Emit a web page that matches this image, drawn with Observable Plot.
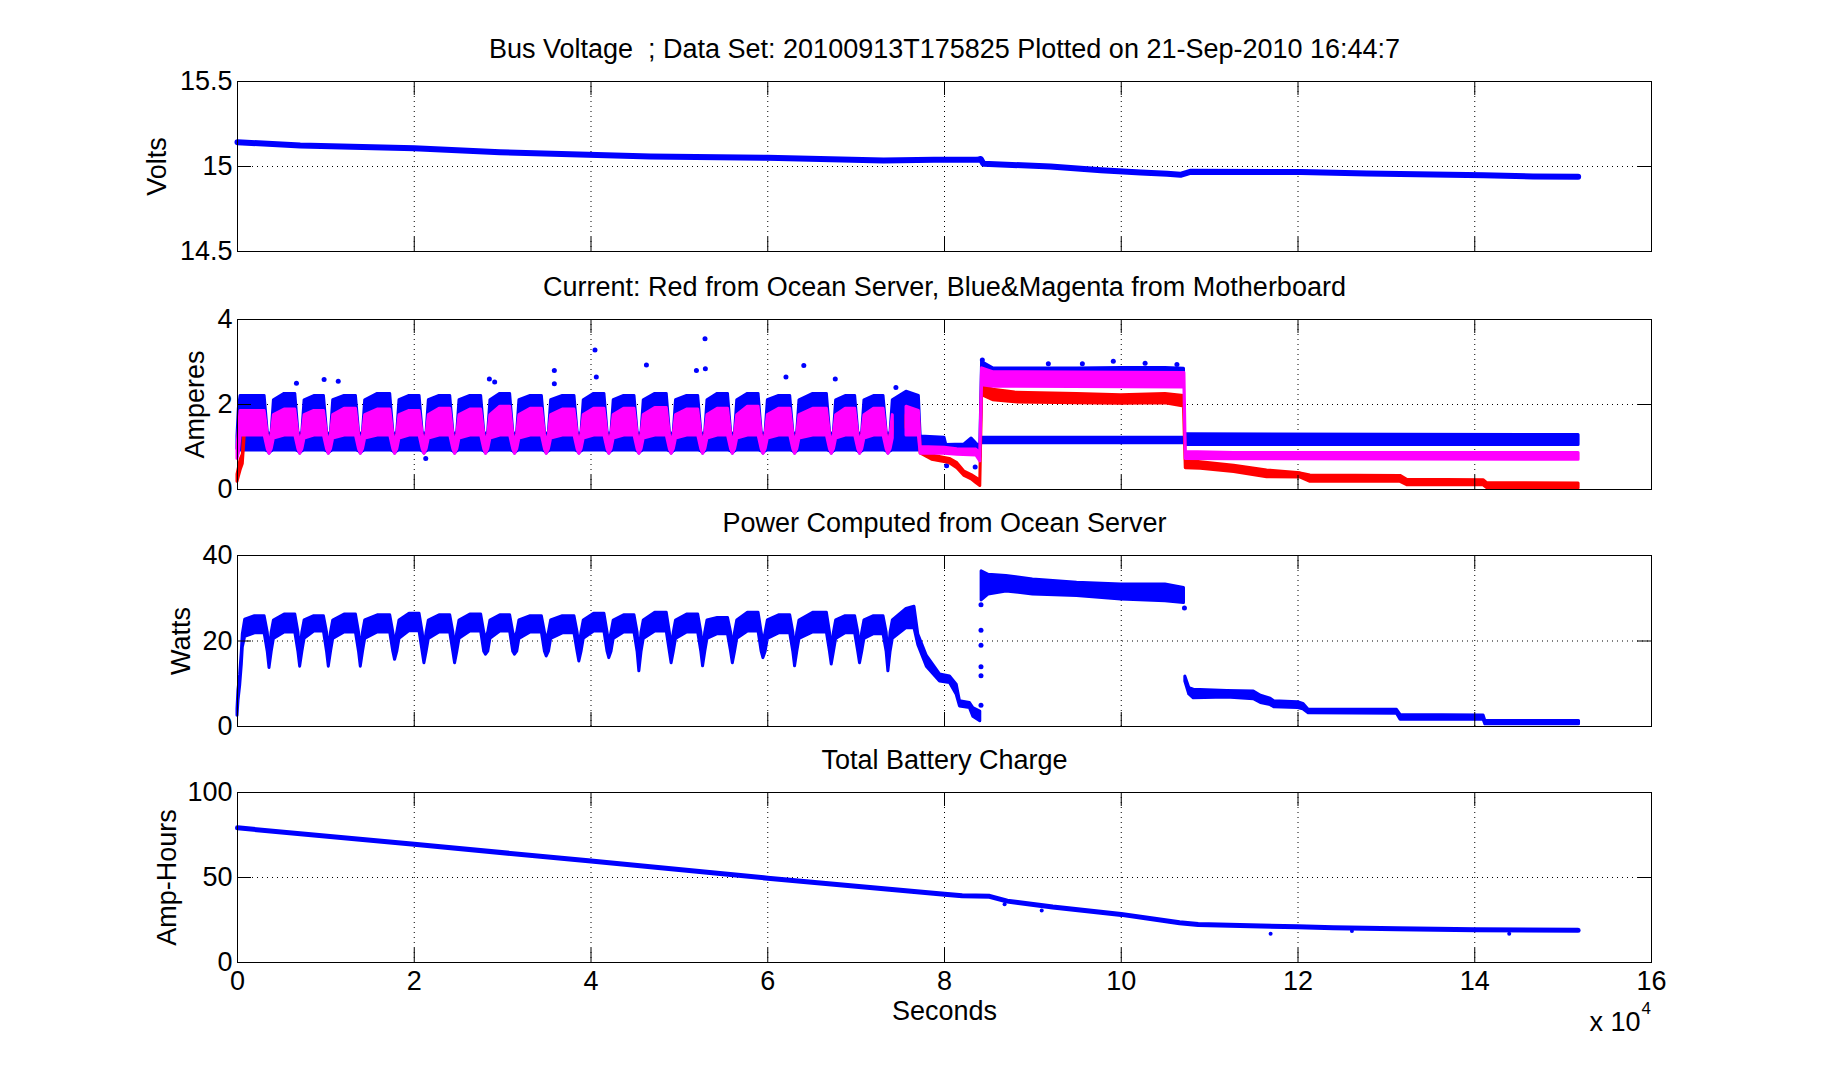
<!DOCTYPE html>
<html>
<head>
<meta charset="utf-8">
<script src="https://cdn.jsdelivr.net/npm/d3@7"></script>
<script src="https://cdn.jsdelivr.net/npm/@observablehq/plot@0.6"></script>
<style>
  html, body { margin: 0; padding: 0; background: #fff; }
  #chart { width: 1824px; height: 1080px; overflow: hidden; }
  #chart svg { display: block; }
</style>
</head>
<body>
<div id="chart"></div>
<script>
// ---------------- data ----------------
const xTickValues = [0, 20000, 40000, 60000, 80000, 100000, 120000, 140000, 160000];
const xTickLabels = ["0", "2", "4", "6", "8", "10", "12", "14", "16"];

const titles = [
  "Bus Voltage  ; Data Set: 20100913T175825 Plotted on 21-Sep-2010 16:44:7",
  "Current: Red from Ocean Server, Blue&Magenta from Motherboard",
  "Power Computed from Ocean Server",
  "Total Battery Charge"
];
const yLabels = ["Volts", "Amperes", "Watts", "Amp-Hours"];
const voltTicks = [14.5, 15, 15.5];
const ampTicks = [0, 2, 4];
const wattTicks = [0, 20, 40];
const ahTicks = [0, 50, 100];

// Bus voltage [seconds, volts]
const voltage = [
  [0, 15.143], [7100, 15.124], [20000, 15.108], [29700, 15.084], [46730, 15.059],
  [60000, 15.051], [73100, 15.035], [78800, 15.039], [83700, 15.039], [84100, 15.044],
  [84400, 15.016], [92000, 15.0], [97700, 14.978], [102200, 14.965], [105200, 14.957],
  [106700, 14.951], [107800, 14.969], [120300, 14.967], [127800, 14.959], [135300, 14.953],
  [141000, 14.948], [146600, 14.941], [151700, 14.94]
];

// duty cycles during the first ~77000 s (dip times, dip power minimum, plateau bands)
const dipTimes = [3620, 7090, 10330, 13950, 17830, 21150, 24620, 28120, 31400, 34990, 38680,
  42070, 45470, 49120, 52680, 56050, 59510, 63090, 67240, 70440, 73650];
const dipWatts = [13.7, 14.0, 14.0, 14.0, 15.6, 14.8, 14.8, 16.8, 16.8, 16.4, 15.2,
  16.0, 12.9, 14.8, 14.1, 14.8, 16.0, 14.1, 14.5, 14.8, 12.9];
const plateauWattsHi = [25.8, 26.2, 25.8, 26.2, 26.0, 26.4, 26.0, 26.2, 26.0, 25.8, 25.8,
  26.4, 26.0, 26.6, 26.2, 25.4, 26.6, 26.0, 26.6, 25.8, 25.8];
const plateauWattsLo = [21.8, 22.0, 22.2, 22.0, 22.0, 22.3, 22.0, 22.2, 22.2, 22.0, 21.8,
  22.2, 22.0, 22.2, 22.0, 21.6, 22.2, 21.8, 22.0, 21.8, 21.6];
const plateauBlueHi = [2.2, 2.25, 2.2, 2.2, 2.25, 2.2, 2.2, 2.2, 2.25, 2.2, 2.2,
  2.25, 2.2, 2.25, 2.2, 2.25, 2.25, 2.2, 2.25, 2.2, 2.2];
const plateauMagentaHi = [1.85, 1.88, 1.85, 1.9, 1.88, 1.85, 1.9, 1.88, 1.95, 1.9, 1.88,
  1.9, 1.9, 1.92, 1.88, 1.9, 1.95, 1.9, 1.9, 1.9, 1.9];
// band levels [lo, hi] around each dip: after-dip, shoulder, bottom
const wattsAfterDip = [20.5, 24.8], wattsShoulder = [17.5, 22.0];
const blueLoPlateau = 0.92, blueAfterDip = [0.92, 2.1], blueShoulder = [0.9, 1.35], blueDip = [0.85, 1.28];
const magentaLoPlateau = 1.27, magentaAfterDip = [1.2, 1.75], magentaShoulder = [0.95, 1.3], magentaDip = [0.84, 1.05];
const redPlateau = [1.45, 1.72], redAfterDip = [1.35, 1.6], redShoulder = [1.0, 1.25], redDip = [0.93, 1.1];

// power start-up and tail [seconds, lo, hi]
const powerStart = [[0, 2.5, 4], [110, 6, 8.5], [300, 9.5, 12], [490, 14.5, 17.5], [600, 18.5, 21.5], [870, 21, 25]];
const powerDecline = [[75700, 23, 27.5], [76600, 23, 28], [77040, 19, 21.5], [78000, 14, 16.5], [79490, 10.5, 12.2],
  [80620, 10.2, 11.7], [81380, 7.4, 9.8], [81750, 4.7, 5.9], [82880, 4.3, 5.5], [83260, 2.3, 4.3], [84050, 1.2, 3.5]];
const powerHigh = [[84200, 29.5, 36.3], [85000, 30.9, 35.5], [87000, 31.6, 35.2], [90000, 30.9, 34.4], [95000, 30.5, 33.6],
  [100000, 29.7, 33.2], [105000, 29.3, 33.2], [107100, 28.9, 32.4]];
const powerLow = [[107250, 10.5, 11.7], [107700, 7.5, 9.0], [108200, 6.6, 8.6], [112000, 6.8, 8.3], [115000, 6.4, 8.2],
  [115800, 5.5, 7.2], [116900, 5.0, 6.5], [117300, 4.5, 5.9], [120000, 4.3, 5.7], [120600, 4.0, 5.3], [121200, 3.1, 3.9],
  [131200, 3.0, 3.9], [131600, 1.6, 2.7], [141000, 1.6, 2.6], [141200, 0.5, 1.3], [151800, 0.5, 1.3]];
const powerStray = [[84130, 5.0], [84130, 11.9], [84130, 14.0], [84130, 19.0], [84130, 22.5], [84130, 28.5], [107150, 27.7]];

// current start-up [seconds, blueLo, blueHi, magentaLo, magentaHi, redLo, redHi]
const currentStart = [
  [0, 0.95, 1.25, 0.72, 1.0, 0.18, 0.35], [150, 0.92, 1.9, 0.85, 1.4, 0.3, 0.5],
  [350, 0.92, 2.2, 1.27, 1.85, 0.45, 0.7], [600, 0.92, 2.2, 1.27, 1.85, 0.6, 0.82],
  [870, 0.92, 2.2, 1.27, 1.85, 1.42, 1.72]
];
// current tails [seconds, lo, hi]
const blueTail = [[75700, 0.92, 2.3], [77100, 0.92, 2.2], [77300, 1.0, 1.25], [80000, 1.0, 1.22], [80200, 0.92, 1.05],
  [82260, 0.92, 1.06], [83070, 0.95, 1.2], [83600, 0.92, 1.08], [84050, 0.75, 1.0], [84250, 2.72, 3.0],
  [85500, 2.72, 2.85], [95000, 2.72, 2.85], [100000, 2.72, 2.86], [105000, 2.72, 2.86], [107100, 2.7, 2.84]];
const blueSparse = [[84300, 1.09, 1.22], [107200, 1.09, 1.22]];
const blueLate = [[107300, 1.05, 1.3], [151750, 1.05, 1.28]];
const magentaTail = [[75700, 1.27, 1.95], [77100, 1.27, 1.85], [77300, 0.84, 1.0], [80000, 0.84, 0.98], [81450, 0.82, 0.95],
  [83600, 0.8, 0.94], [84050, 0.66, 0.85], [84250, 2.45, 2.85], [85500, 2.42, 2.76], [107150, 2.4, 2.74],
  [107300, 0.72, 0.88], [112770, 0.71, 0.86], [151750, 0.7, 0.86]];
const redTail = [[75700, 1.45, 1.75], [77100, 1.45, 1.7], [77300, 0.85, 0.95], [78600, 0.7, 0.8], [80600, 0.62, 0.72],
  [81450, 0.5, 0.62], [82260, 0.32, 0.42], [83070, 0.24, 0.34], [83600, 0.15, 0.27], [84050, 0.08, 0.2],
  [84250, 2.22, 2.45], [85500, 2.1, 2.35], [88000, 2.05, 2.28], [95000, 2.03, 2.25], [100000, 2.02, 2.22],
  [105000, 2.03, 2.25], [107100, 1.95, 2.2], [107300, 0.5, 0.68], [109000, 0.49, 0.64], [112770, 0.41, 0.56],
  [116500, 0.29, 0.45], [120300, 0.28, 0.38], [121400, 0.18, 0.33], [131600, 0.18, 0.32], [132350, 0.1, 0.23],
  [141000, 0.1, 0.22], [141400, 0.03, 0.15], [151750, 0.03, 0.14]];
const blueStray = [[6670, 2.5], [9800, 2.59], [11400, 2.55], [21300, 0.73], [28500, 2.6], [29100, 2.53], [35850, 2.8],
  [35850, 2.49], [40450, 3.28], [40600, 2.65], [46270, 2.93], [51930, 2.8], [52900, 3.55], [52940, 2.84],
  [62060, 2.65], [64080, 2.92], [67640, 2.6], [74500, 2.4], [80240, 0.56], [83470, 0.53], [84280, 3.05],
  [91750, 2.96], [95600, 2.96], [99100, 3.02], [102700, 2.97], [106300, 2.94]];

// battery charge [seconds, amp-hours]
const charge = [[0, 79.2], [20000, 69.5], [40000, 59.7], [60000, 49.6], [80000, 40.1], [82000, 39.2], [85100, 38.9],
  [87100, 36.1], [92250, 32.6], [100000, 28.3], [106600, 23.4], [108700, 22.4], [115800, 21.4], [120000, 21.0],
  [124000, 20.4], [131200, 19.8], [140000, 19.3], [151700, 18.9]];
const chargeStray = [[86800, 34.2], [91000, 30.6], [116900, 16.9], [126100, 18.5], [143900, 16.9]];

// ---------------- tables for the marks ----------------
const band = (seg) => ([t, lo, hi]) => ({t, lo, hi, seg});
const powerRows = powerStart.map(band(1));
const blueRows = [], magentaRows = [], redRows = [];
const pushCurrent = (t, b, m, r) => {
  blueRows.push({t, lo: b[0], hi: b[1], seg: 1});
  magentaRows.push({t, lo: m[0], hi: m[1]});
  redRows.push({t, lo: r[0], hi: r[1]});
};
currentStart.forEach(([t, bl, bh, ml, mh, rl, rh]) => pushCurrent(t, [bl, bh], [ml, mh], [rl, rh]));
for (let k = 0; k < dipTimes.length; k++) {
  const d = dipTimes[k];
  const start = k === 0 ? 870 : dipTimes[k - 1] + 500;
  if (k > 0) {
    powerRows.push({t: start, lo: wattsAfterDip[0], hi: wattsAfterDip[1], seg: 1});
    pushCurrent(start, blueAfterDip, magentaAfterDip, redAfterDip);
  }
  const plateauW = [plateauWattsLo[k], plateauWattsHi[k]];
  const plateauB = [blueLoPlateau, plateauBlueHi[k]];
  const plateauM = [magentaLoPlateau, plateauMagentaHi[k]];
  for (const t of [(start + d - 550) / 2, d - 550]) {
    powerRows.push({t, lo: plateauW[0], hi: plateauW[1], seg: 1});
    pushCurrent(t, plateauB, plateauM, redPlateau);
  }
  powerRows.push({t: d - 200, lo: wattsShoulder[0], hi: wattsShoulder[1], seg: 1});
  pushCurrent(d - 200, blueShoulder, magentaShoulder, redShoulder);
  powerRows.push({t: d, lo: dipWatts[k], hi: dipWatts[k] + 3.5, seg: 1});
  pushCurrent(d, blueDip, magentaDip, redDip);
  powerRows.push({t: d + 250, lo: wattsShoulder[0], hi: wattsShoulder[1], seg: 1});
  pushCurrent(d + 250, blueShoulder, magentaShoulder, redShoulder);
}
const lastStart = dipTimes[dipTimes.length - 1] + 500;
powerRows.push({t: lastStart, lo: wattsAfterDip[0], hi: wattsAfterDip[1], seg: 1});
pushCurrent(lastStart, blueAfterDip, magentaAfterDip, redAfterDip);
powerRows.push(...powerDecline.map(band(1)), ...powerHigh.map(band(2)), ...powerLow.map(band(3)));
blueRows.push(...blueTail.map(band(1)), ...blueSparse.map(band(2)), ...blueLate.map(band(3)));
magentaRows.push(...magentaTail.map(band(1)));
redRows.push(...redTail.map(band(1)));

// ---------------- drawing ----------------
const FONT = "'Liberation Sans', Arial, Helvetica, sans-serif";
const FS = 27;
const BLUE = "#0000ff", MAGENTA = "#ff00ff", RED = "#ff0000";
const W = 1824, ML = 237, MR = 173, FRAME_W = W - ML - MR, TICK = 14;

function label(text, opts) {
  return Plot.text([text], {text: d => d, fontSize: FS, fill: "black", textAnchor: "middle", lineAnchor: "middle", ...opts});
}

function panel({height, marginTop, marginBottom, yDomain, yTicks, title, ylabel, ylabelDx, marks, bottom}) {
  const frameH = height - marginTop - marginBottom;
  return Plot.plot({
    width: W, height, marginLeft: ML, marginRight: MR, marginTop, marginBottom,
    x: {domain: [0, 160000], axis: bottom ? undefined : null},
    y: {domain: yDomain},
    style: {fontFamily: FONT, background: "white", color: "black", overflow: "visible"},
    marks: [
      Plot.ruleX(xTickValues, {x: d => d, stroke: "black", strokeDasharray: "1,4", strokeWidth: 1}),
      Plot.ruleY(yTicks, {y: d => d, stroke: "black", strokeDasharray: "1,4", strokeWidth: 1}),
      ...marks,
      Plot.frame({stroke: "black", strokeWidth: 1}),
      Plot.tickX(xTickValues, {x: d => d, insetTop: frameH - TICK, stroke: "black"}),
      Plot.tickX(xTickValues, {x: d => d, insetBottom: frameH - TICK, stroke: "black"}),
      Plot.tickY(yTicks, {y: d => d, insetRight: FRAME_W - TICK, stroke: "black"}),
      Plot.tickY(yTicks, {y: d => d, insetLeft: FRAME_W - TICK, stroke: "black"}),
      Plot.axisY(yTicks, {tickSize: 0, tickPadding: 5, fontSize: FS, label: null, tickFormat: d => String(d)}),
      bottom ? Plot.axisX(xTickValues, {tickSize: 0, tickPadding: 8, fontSize: FS, label: null,
        tickFormat: d => xTickLabels[xTickValues.indexOf(d)]}) : null,
      label(title, {frameAnchor: "top", dy: -32}),
      label(ylabel, {frameAnchor: "left", dx: ylabelDx, rotate: -90}),
      ...(bottom ? [
        label("Seconds", {frameAnchor: "bottom", dy: 49}),
        label("x 10", {frameAnchor: "bottom-right", dx: -11, dy: 60, textAnchor: "end"}),
        label("4", {frameAnchor: "bottom-right", dx: -10, dy: 46, textAnchor: "start", fontSize: 17})
      ] : [])
    ]
  });
}

const areaOpts = (color) => ({x: "t", y1: "lo", y2: "hi", z: "seg", fill: color, stroke: color,
  strokeWidth: 3, strokeLinejoin: "round", curve: "linear"});

const chart = document.getElementById("chart");

chart.append(panel({
  height: 268, marginTop: 81, marginBottom: 17, yDomain: [14.5, 15.5], yTicks: voltTicks,
  title: titles[0], ylabel: yLabels[0], ylabelDx: -80,
  marks: [Plot.line(voltage, {x: d => d[0], y: d => d[1], stroke: BLUE, strokeWidth: 6, strokeLinejoin: "round", strokeLinecap: "round"})]
}));

chart.append(panel({
  height: 239, marginTop: 51, marginBottom: 18, yDomain: [0, 4], yTicks: ampTicks,
  title: titles[1], ylabel: yLabels[1], ylabelDx: -42,
  marks: [
    Plot.areaY(blueRows, areaOpts(BLUE)),
    Plot.dot(blueStray, {x: d => d[0], y: d => d[1], r: 2.5, fill: BLUE, stroke: null}),
    Plot.areaY(redRows, areaOpts(RED)),
    Plot.areaY(magentaRows, areaOpts(MAGENTA))
  ]
}));

chart.append(panel({
  height: 237, marginTop: 48, marginBottom: 18, yDomain: [0, 40], yTicks: wattTicks,
  title: titles[2], ylabel: yLabels[2], ylabelDx: -56,
  marks: [
    Plot.areaY(powerRows, areaOpts(BLUE)),
    Plot.dot(powerStray, {x: d => d[0], y: d => d[1], r: 2.5, fill: BLUE, stroke: null})
  ]
}));

chart.append(panel({
  height: 336, marginTop: 48, marginBottom: 118, yDomain: [0, 100], yTicks: ahTicks,
  title: titles[3], ylabel: yLabels[3], ylabelDx: -70, bottom: true,
  marks: [
    Plot.line(charge, {x: d => d[0], y: d => d[1], stroke: BLUE, strokeWidth: 5, strokeLinejoin: "round", strokeLinecap: "round"}),
    Plot.dot(chargeStray, {x: d => d[0], y: d => d[1], r: 2, fill: BLUE, stroke: null})
  ]
}));
</script>
</body>
</html>
